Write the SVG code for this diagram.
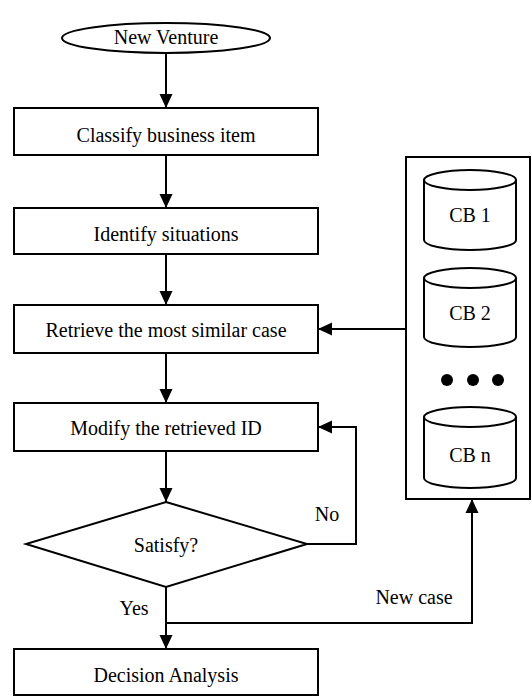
<svg xmlns="http://www.w3.org/2000/svg" width="532" height="696" viewBox="0 0 532 696">
<defs>
<marker id="ah" markerUnits="userSpaceOnUse" markerWidth="14" markerHeight="14" viewBox="0 0 14 14" refX="14" refY="7" orient="auto">
<path d="M0,0.5 L14,7 L0,13.5 Z" fill="#000"/>
</marker>
</defs>
<style>
.s{fill:#fff;stroke:#000;stroke-width:2}
.c{fill:none;stroke:#000;stroke-width:2}
.t{font-family:"Liberation Serif","Times New Roman",serif;font-size:20px;fill:#000;text-anchor:middle}
</style>
<rect width="532" height="696" fill="#fff"/>
<g id="connectors">
<line class="c" x1="166" y1="53" x2="166" y2="108" marker-end="url(#ah)"/>
<line class="c" x1="166" y1="155" x2="166" y2="208" marker-end="url(#ah)"/>
<line class="c" x1="166" y1="254" x2="166" y2="305" marker-end="url(#ah)"/>
<line class="c" x1="166" y1="353" x2="166" y2="403" marker-end="url(#ah)"/>
<line class="c" x1="166" y1="451" x2="166" y2="502" marker-end="url(#ah)"/>
<line class="c" x1="166" y1="587" x2="166" y2="649" marker-end="url(#ah)"/>
<line class="c" x1="406" y1="329" x2="318" y2="329" marker-end="url(#ah)"/>
<polyline class="c" points="307,544 356,544 356,427 318,427" marker-end="url(#ah)"/>
<polyline class="c" points="166,623 472,623 472,499" marker-end="url(#ah)"/>
<text class="t" x="134" y="615">Yes</text>
<text class="t" x="327" y="521">No</text>
<text class="t" x="414" y="604">New case</text>
</g>
<g id="start">
<ellipse class="s" cx="166" cy="38" rx="104" ry="15"/>
<text class="t" x="166" y="44">New Venture</text>
</g>
<g id="classify">
<rect class="s" x="14" y="108" width="304" height="47"/>
<text class="t" x="166" y="141.5">Classify business item</text>
</g>
<g id="identify">
<rect class="s" x="14" y="208" width="304" height="46"/>
<text class="t" x="166" y="241">Identify situations</text>
</g>
<g id="retrieve">
<rect class="s" x="14" y="305" width="304" height="48"/>
<text class="t" x="166" y="337">Retrieve the most similar case</text>
</g>
<g id="modify">
<rect class="s" x="14" y="403" width="304" height="48"/>
<text class="t" x="166" y="435">Modify the retrieved ID</text>
</g>
<g id="satisfy">
<polygon class="s" points="166,502 307,544 166,587 26,544"/>
<text class="t" x="166" y="551.5">Satisfy?</text>
</g>
<g id="decision">
<rect class="s" x="14" y="649" width="304" height="46"/>
<text class="t" x="166" y="681.5">Decision Analysis</text>
</g>
<g id="casebase">
<rect class="s" x="406" y="157" width="124" height="342"/>
</g>
<g id="cb1">
<path class="s" d="M424,180 A46,10 0 0 1 516,180 L516,240 A46,10 0 0 1 424,240 Z"/>
<path class="c" d="M424,180 A46,10 0 0 0 516,180"/>
<text class="t" x="470" y="222">CB 1</text>
</g>
<g id="cb2">
<path class="s" d="M424,278 A46,10 0 0 1 516,278 L516,337 A46,10 0 0 1 424,337 Z"/>
<path class="c" d="M424,278 A46,10 0 0 0 516,278"/>
<text class="t" x="470" y="319.5">CB 2</text>
</g>
<g id="dots">
<circle cx="447" cy="380" r="6" fill="#000"/>
<circle cx="473" cy="380" r="6" fill="#000"/>
<circle cx="498" cy="380" r="6" fill="#000"/>
</g>
<g id="cbn">
<path class="s" d="M424,417 A46,10 0 0 1 516,417 L516,478 A46,10 0 0 1 424,478 Z"/>
<path class="c" d="M424,417 A46,10 0 0 0 516,417"/>
<text class="t" x="470" y="461.5">CB n</text>
</g>
</svg>
